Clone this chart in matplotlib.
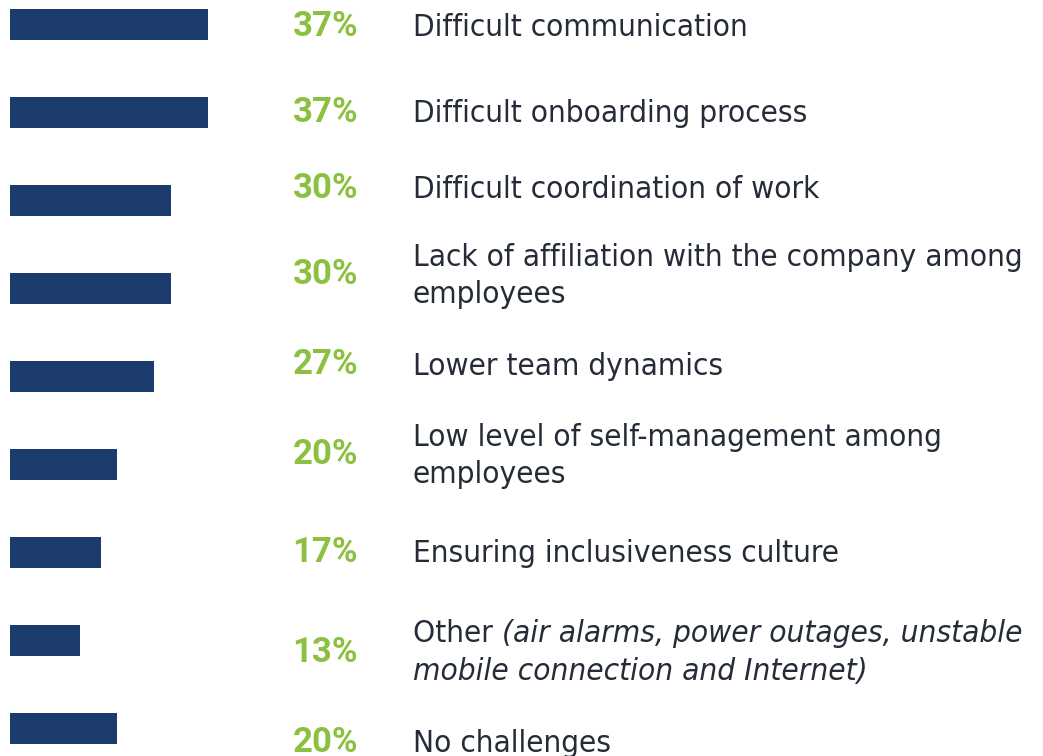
import matplotlib.pyplot as plt

# survey answers, top to bottom
labels = [
    "Difficult communication",
    "Difficult onboarding process",
    "Difficult coordination of work",
    "Lack of affiliation with the company among\nemployees",
    "Lower team dynamics",
    "Low level of self-management among\nemployees",
    "Ensuring inclusiveness culture",
    "Other",
    "No challenges",
]
values = [37, 37, 30, 30, 27, 20, 17, 13, 20]
other_note = ["(air alarms, power outages, unstable", "mobile connection and Internet)"]

# layout (pixels of the 1043x756 canvas)
W, H = 1043, 756
text_rows_px = [25, 110, 186, 273, 363, 453, 551, 651, 741]
px_per_unit = 198 / 37
bar_left_px = 10
first_bar_px = 24.5
row_step_px = 88

BAR = "#1c3c6e"
GREEN = "#8cc040"
DARK = "#252c38"
LABEL_FONT = dict(family="DejaVu Sans", fontstretch="condensed", fontsize=22.6, color=DARK)

fig = plt.figure(figsize=(W / 100, H / 100), dpi=100)
ax = fig.add_axes([0, 0, 1, 1])
ax.axis("off")

rows = list(range(len(values)))
ax.barh(rows, values, height=31 / row_step_px, color=BAR)
ax.set_xlim(-bar_left_px / px_per_unit, (W - bar_left_px) / px_per_unit)
ax.set_ylim((H - first_bar_px) / row_step_px, -first_bar_px / row_step_px)

for lab, v, ypx in zip(labels, values, text_rows_px):
    ax.text(358 / W, 1 - (ypx + 2) / H, f"{v}%", transform=ax.transAxes, ha="right",
            va="center", family="Roboto", fontweight="bold", fontsize=25, color=GREEN)
    if lab == "Other":
        y1 = 1 - 634 / H
        y2 = 1 - 672 / H
        t = ax.text(413 / W, y1, lab + " ", transform=ax.transAxes, ha="left",
                    va="center", **LABEL_FONT)
        ax.annotate(other_note[0], xy=(1, 0.5), xycoords=t, ha="left", va="center",
                    style="italic", **LABEL_FONT)
        ax.text(413 / W, y2, other_note[1], transform=ax.transAxes, ha="left",
                va="center", style="italic", **LABEL_FONT)
    else:
        ax.text(413 / W, 1 - (ypx + 3) / H, lab, transform=ax.transAxes, ha="left",
                va="center", linespacing=1.34, **LABEL_FONT)

fig.savefig("out.png", dpi=100)
